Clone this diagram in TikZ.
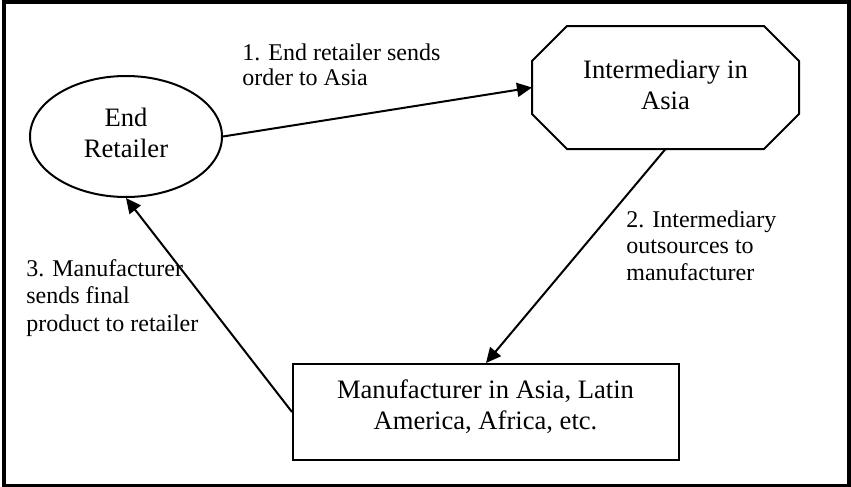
\documentclass[tikz,border=0pt]{standalone}
\usepackage{fontspec}
\setmainfont{Liberation Serif}
\usetikzlibrary{shapes.geometric,arrows.meta,calc}
\begin{document}
\begin{tikzpicture}[x=0.5pt,y=-0.5pt,
  shapeline/.style={draw=black,line width=1pt,inner sep=0pt},
  ell/.style={shapeline,ellipse,minimum width=96pt,minimum height=60.5pt},
  octabox/.style={inner sep=0pt,outer sep=0.5pt,minimum width=132.5pt,minimum height=60.5pt},
  box/.style={shapeline,rectangle,minimum width=193pt,minimum height=48pt},
  ntext/.style={anchor=base,inner sep=0pt,font=\fontsize{13.3}{15.5}\selectfont},
  ltext/.style={anchor=base west,inner sep=0pt},
  conn/.style={line width=1pt,-{Triangle[length=7.5pt,width=7pt]}},
]
\useasboundingbox (0,0) rectangle (851,487);
\draw[line width=2pt] (4,2) rectangle (849,485.5);

% shapes
\node[ell] (er) at (126,136.5) {};
\node[octabox] (im) at (665.5,87.5) {};
\draw[shapeline] ($(im.north west)+(35,0)$) -- ($(im.north east)+(-35,0)$)
  -- ($(im.north east)+(0,35)$) -- ($(im.south east)+(0,-35)$)
  -- ($(im.south east)+(-35,0)$) -- ($(im.south west)+(35,0)$)
  -- ($(im.south west)+(0,-35)$) -- ($(im.north west)+(0,35)$) -- cycle;
\node[box] (mf) at (486,412) {};

% shape texts
\node[ntext] (ert) at (126,126) {\begin{tabular}[t]{@{}c@{}}End\\Retailer\end{tabular}};
\node[ntext] (imt) at (665.5,78) {\begin{tabular}[t]{@{}c@{}}Intermediary in\\Asia\end{tabular}};
\node[ntext] (mft) at (485.5,398) {\begin{tabular}[t]{@{}c@{}}Manufacturer in Asia, Latin\\America, Africa, etc.\end{tabular}};

% connectors
\draw[conn] (er.east) -- (im.west);
\draw[conn] (im.south) -- (mf.north);
\draw[conn] (mf.west) -- (er.south);

% labels
\node[ltext,font=\fontsize{12}{12.5}\selectfont] (l1) at (242,61)
  {\begin{tabular}[t]{@{}l@{}}1. End retailer sends\\order to Asia\end{tabular}};
\node[ltext,font=\fontsize{12}{13.25}\selectfont] (l2) at (626,227)
  {\begin{tabular}[t]{@{}l@{}}2. Intermediary\\outsources to\\manufacturer\end{tabular}};
\node[ltext,font=\fontsize{12}{13.75}\selectfont] (l3) at (26,276)
  {\begin{tabular}[t]{@{}l@{}}3. Manufacturer\\sends final\\product to retailer\end{tabular}};
\end{tikzpicture}
\end{document}
